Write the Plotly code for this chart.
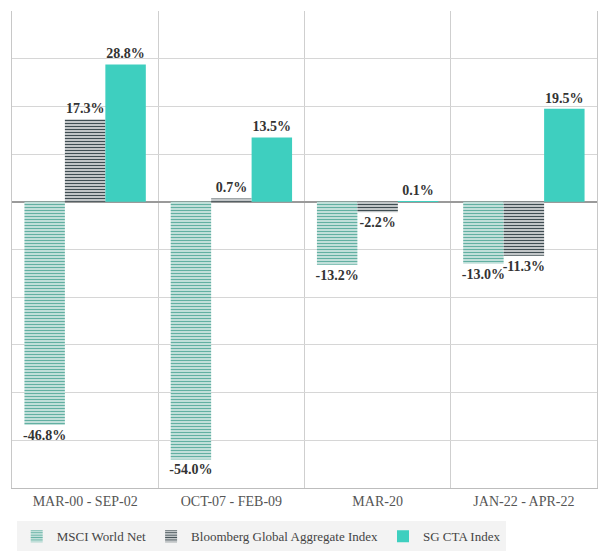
import plotly.graph_objects as go

categories = ["MAR-00 - SEP-02", "OCT-07 - FEB-09", "MAR-20", "JAN-22 - APR-22"]
msci = [-46.8, -54.0, -13.2, -13.0]
bloomberg = [17.3, 0.7, -2.2, -11.3]
sgcta = [28.8, 13.5, 0.1, 19.5]
series_names = ["MSCI World Net", "Bloomberg Global Aggregate Index", "SG CTA Index"]

FONT = "Liberation Serif"

def labels(vals):
    return [f"{v:.1f}%" for v in vals]

common_text = dict(textposition="outside", constraintext="none", cliponaxis=False,
                   textfont=dict(family=FONT, size=14, color="#333333", weight="bold"))

fig = go.Figure()
fig.add_trace(go.Bar(
    x=categories, y=msci, name=series_names[0],
    marker=dict(color="white", line=dict(width=0),
                pattern=dict(shape="-", fgcolor="#62b0a2", size=3, solidity=0.6, fillmode="replace", bgcolor="white")),
    text=labels(msci), **common_text,
))
fig.add_trace(go.Bar(
    x=categories, y=bloomberg, name=series_names[1],
    marker=dict(color="white", line=dict(width=0),
                pattern=dict(shape="-", fgcolor="#3f4d52", size=3, solidity=0.55, fillmode="replace", bgcolor="white")),
    text=labels(bloomberg), **common_text,
))
fig.add_trace(go.Bar(
    x=categories, y=sgcta, name=series_names[2],
    marker=dict(color="#3ecfbf", line=dict(width=0)),
    text=labels(sgcta), **common_text,
))

fig.update_layout(
    width=600, height=544,
    margin=dict(l=4, r=11, t=3, b=64, autoexpand=False),
    paper_bgcolor="white", plot_bgcolor="white",
    barmode="group", bargap=0.17, bargroupgap=0,
    font=dict(family=FONT, size=14, color="#555555"),
    showlegend=True,
    legend=dict(orientation="h", x=0.426, xanchor="center", y=-0.07, yanchor="top",
                bgcolor="#f3f3f3", font=dict(family=FONT, size=13, color="#444444"),
                itemwidth=30, tracegroupgap=0),
    xaxis=dict(type="category", tickson="boundaries", showgrid=True, gridcolor="#cfcfcf",
               showline=True, linecolor="#bdbdbd", ticks="outside", ticklen=5,
               tickcolor="rgba(0,0,0,0)",
               tickfont=dict(family=FONT, size=14, color="#555555")),
    yaxis=dict(range=[-60, 40], dtick=10, showticklabels=False, showgrid=True, gridcolor="#d6d6d6",
               zeroline=True, zerolinecolor="#9a9a9a", zerolinewidth=1.5,
               showline=True, linecolor="#c8c8c8", mirror=True),
)

fig.write_html("out.html")
